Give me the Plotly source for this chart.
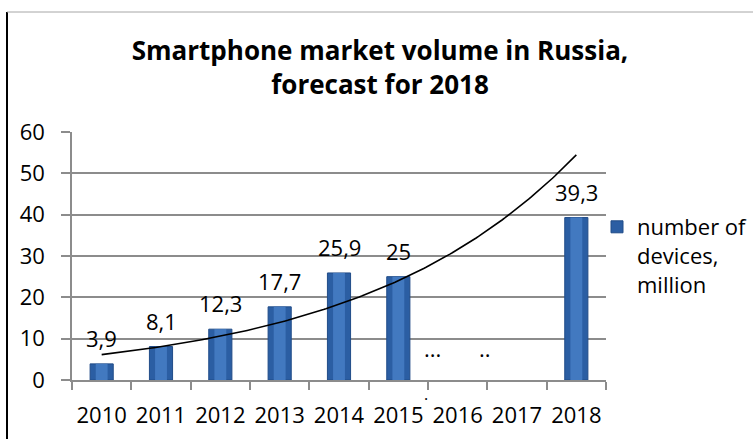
import numpy as np
import plotly.graph_objects as go

# Smartphone market volume in Russia, million devices
years = ["2010", "2011", "2012", "2013", "2014", "2015", "2016", "2017", "2018"]
devices = [3.9, 8.1, 12.3, 17.7, 25.9, 25.0, None, None, 39.3]
y_ticks = [0, 10, 20, 30, 40, 50, 60]
series_name = "number of<br>devices,<br>million"

FONT = "Open Sans"
FS = 22
GRID = "#8c8c8c"
idx = list(range(len(years)))

# plot area in pixels (753 x 439 canvas)
L, R, T, B = 72, 606, 132, 380
W, H = 753, 439

fig = go.Figure()

# bars: darker outer body with a lighter centre for a rounded look
fig.add_trace(go.Bar(
    x=idx, y=devices, width=0.39, name=series_name,
    marker=dict(color="#2b5ea3", line=dict(color="#214c88", width=1)),
    showlegend=True, hoverinfo="skip",
))
fig.add_trace(go.Bar(
    x=idx, y=devices, width=0.2,
    marker=dict(color="#4279c0", line=dict(width=0)),
    showlegend=False, hoverinfo="skip",
))

# exponential trendline fitted to the known points
known = [(i + 1, v) for i, v in zip(idx, devices) if v is not None]
kx = np.array([k[0] for k in known], dtype=float)
ky = np.log(np.array([k[1] for k in known], dtype=float))
b, ln_a = np.polyfit(kx, ky, 1)
tx = np.linspace(1, len(years), 200)
ty = np.exp(ln_a) * np.exp(b * tx)
fig.add_trace(go.Scatter(
    x=tx - 1, y=ty, mode="lines", line=dict(color="black", width=1.6),
    showlegend=False, hoverinfo="skip",
))

annotations = []
# value labels above the bars
for i, v in zip(idx, devices):
    if v is None:
        continue
    annotations.append(dict(
        x=i, y=v, xref="x", yref="y", text=f"{v:g}".replace(".", ","),
        showarrow=False, yanchor="middle", yshift=26,
        font=dict(family=FONT, size=FS, color="black"),
    ))

# ellipsis marks for the missing years
dot_font = dict(family=FONT, size=FS, color="black")
annotations += [
    dict(x=5.57, y=3.6, xref="x", yref="y", text="...", showarrow=False,
         yanchor="bottom", font=dot_font),
    dict(x=6.46, y=3.6, xref="x", yref="y", text="..", showarrow=False,
         yanchor="bottom", font=dot_font),
    dict(x=5.47, y=0, xref="x", yref="y", text=".", showarrow=False,
         yanchor="bottom", yshift=-27, font=dict(family=FONT, size=16)),
]

def px_x(p):
    return (p - L) / (R - L)

def px_y(p):
    return (B - p) / (B - T)

shapes = [
    # left frame edge
    dict(type="line", xref="paper", yref="paper",
         x0=px_x(7), x1=px_x(7), y0=px_y(12), y1=px_y(H + 2),
         line=dict(color="black", width=2)),
    # top frame edge
    dict(type="line", xref="paper", yref="paper",
         x0=px_x(7), x1=px_x(W + 2), y0=px_y(12), y1=px_y(12),
         line=dict(color="#a6a6a6", width=1)),
]

fig.update_layout(
    width=W, height=H,
    margin=dict(l=L, r=W - R, t=T, b=H - B, pad=0, autoexpand=False),
    paper_bgcolor="white", plot_bgcolor="white",
    barmode="overlay",
    font=dict(family=FONT, size=FS, color="black"),
    title=dict(
        text="<b>Smartphone market volume in Russia,<br>forecast for 2018</b>",
        x=380 / W, xref="container", xanchor="center",
        y=1 - 60 / H, yref="container", yanchor="top",
        font=dict(family=FONT, size=26, color="black"),
    ),
    xaxis=dict(
        range=[-0.5, len(years) - 0.5],
        tickmode="array", tickvals=idx, ticktext=years,
        ticks="", showgrid=False, zeroline=False,
        showline=True, linecolor=GRID, linewidth=1.5,
        minor=dict(ticks="outside", tick0=-0.5, dtick=1, ticklen=8,
                   tickcolor=GRID, tickwidth=1.5, showgrid=False),
        ticklabelstandoff=15,
        tickfont=dict(family=FONT, size=FS),
        fixedrange=True,
    ),
    yaxis=dict(
        range=[0, 60], tickmode="array", tickvals=y_ticks,
        showgrid=True, gridcolor=GRID, gridwidth=1.5,
        zeroline=False, showline=True, linecolor=GRID, linewidth=1.5,
        ticks="outside", ticklen=9, tickcolor=GRID, tickwidth=1.5,
        ticklabelstandoff=12,
        tickfont=dict(family=FONT, size=FS),
        fixedrange=True,
    ),
    legend=dict(
        x=px_x(597), y=px_y(206), xanchor="left", yanchor="top",
        xref="paper", yref="paper", valign="top",
        font=dict(family=FONT, size=FS), bgcolor="rgba(0,0,0,0)",
        itemwidth=30, tracegroupgap=0,
    ),
    annotations=annotations,
    shapes=shapes,
)

fig.write_html("out.html")
